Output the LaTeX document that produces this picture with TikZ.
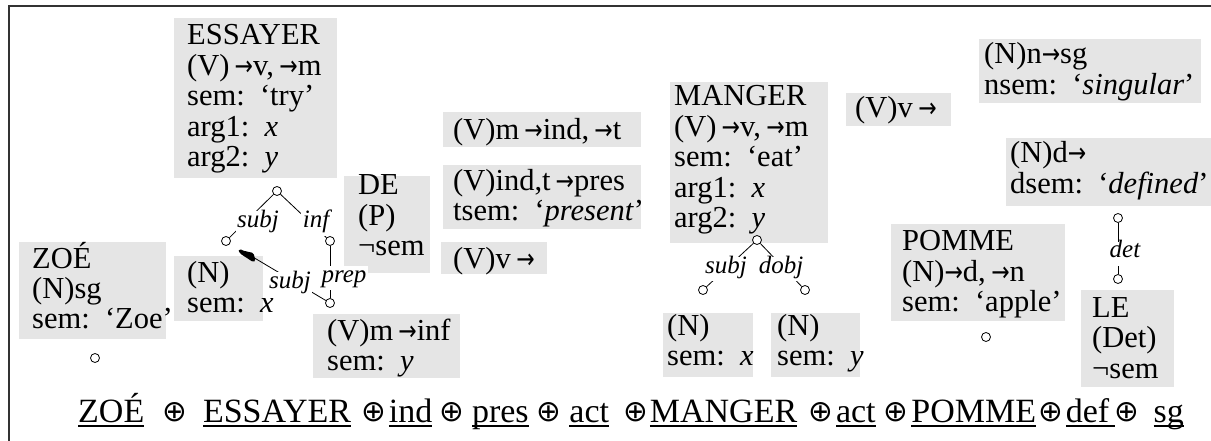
\documentclass[tikz,border=0pt]{standalone}
\usepackage{fontspec}
\setmainfont{Liberation Serif}
\newfontfamily\dvsans{DejaVu Sans}
\usepackage{graphicx}
\definecolor{boxgray}{RGB}{229,229,229}
\newcommand\ra{{\dvsans\scalebox{0.72}[0.9]{→}}}
\newcommand\ul[1]{{\setbox0=\hbox{#1}\rlap{\rule[-4.5pt]{\wd0}{1.3pt}}\box0}}
\newcommand\op{\raisebox{1pt}{\resizebox{!}{19pt}{\dvsans ⊕}}}
\newcommand\tightsp{\spaceskip=5.5pt plus 1pt minus 1pt\relax}
\begin{document}
\begin{tikzpicture}[x=1pt,y=-1pt,
  box/.style={fill=boxgray, inner sep=0pt, anchor=north west},
  txt/.style={anchor=base west, inner sep=0pt, align=left, text width=240pt, font=\fontsize{30.5}{30.5}\selectfont, execute at begin node=\tightsp},
  dot/.style={circle, draw, fill=white, inner sep=0pt, minimum size=9pt, line width=0.8pt},
  lab/.style={anchor=base, fill=white, inner sep=1.5pt, font=\fontsize{25}{25}\selectfont\itshape, text height=15pt, text depth=6pt},
  conn/.style={line width=0.8pt},
  frame/.style={line width=1.6pt, draw=black!80}]
\useasboundingbox (0,0) rectangle (1211,441);
% frame
\coordinate (fBL) at (9,441);
\coordinate (fTL) at (9,6);
\coordinate (fTR) at (1211,6);
\draw[frame] (fBL) -- (fTL) -- (fTR);
% boxes
\node[box, minimum width=163pt, minimum height=160pt] (essB) at (174,18) {};
\node[box, minimum width=86pt, minimum height=97pt] (deB) at (344,176) {};
\node[box, minimum width=89pt, minimum height=65pt] (n1B) at (174,256) {};
\node[box, minimum width=147pt, minimum height=64pt] (vinfB) at (313,314) {};
\node[box, minimum width=147pt, minimum height=97pt] (zoeB) at (19,242) {};
\node[box, minimum width=198pt, minimum height=35pt] (mindB) at (443,112) {};
\node[box, minimum width=198pt, minimum height=64pt] (presB) at (443,165) {};
\node[box, minimum width=106pt, minimum height=32pt] (vvaB) at (441,242) {};
\node[box, minimum width=158pt, minimum height=161pt] (mangB) at (670,82) {};
\node[box, minimum width=90pt, minimum height=64pt] (nxB) at (663,313) {};
\node[box, minimum width=89pt, minimum height=64pt] (nyB) at (771,313) {};
\node[box, minimum width=105pt, minimum height=33pt] (vvbB) at (846,93) {};
\node[box, minimum width=222pt, minimum height=64pt] (sgB) at (979,39) {};
\node[box, minimum width=205pt, minimum height=68pt] (defB) at (1006,138) {};
\node[box, minimum width=174pt, minimum height=97pt] (pomB) at (891,224) {};
\node[box, minimum width=93pt, minimum height=97pt] (leB) at (1081,290) {};
% texts
\node[txt] (ess) at (187,45) {ESSAYER\\(V)\,\ra v, \ra m\\sem: ‘try’\\arg1: \textit{x}\\arg2: \textit{y}};
\node[txt] (de) at (358,195) {DE\\(P)\\¬sem};
\node[txt] (na) at (187,282) {(N)\\sem: \textit{x}};
\node[txt] (vinf) at (327,340) {(V)m\,\ra inf\\sem: \textit{y}};
\node[txt] (zoe) at (32,268) {ZOÉ\\(N)sg\\sem: ‘Zoe’};
\node[txt] (mind) at (453,140) {(V)m\,\ra ind,\,\ra t};
\node[txt] (pres) at (453,190) {(V)ind,t\,\ra pres\\tsem: ‘\textit{present}’};
\node[txt] (vva) at (453,268) {(V)v \ra};
\node[txt] (mang) at (674,106) {MANGER\\(V)\,\ra v, \ra m\\sem: ‘eat’\\arg1: \textit{x}\\arg2: \textit{y}};
\node[txt] (nx) at (667,335) {(N)\\sem: \textit{x}};
\node[txt] (ny) at (777,335) {(N)\\sem: \textit{y}};
\node[txt] (vvb) at (855,118) {(V)v \ra};
\node[txt] (sg) at (984,64) {(N)n\ra sg\\nsem: ‘\textit{singular}’};
\node[txt] (def) at (1010,163) {(N)d\ra\\dsem: ‘\textit{defined}’};
\node[txt] (pom) at (902,251) {POMME\\(N)\ra d, \ra n\\sem: ‘apple’};
\node[txt] (le) at (1092,317) {LE\\(Det)\\¬sem};
% circles
\node[dot] (cEss) at (277,191) {};
\node[dot] (cSa) at (226,241) {};
\node[dot] (cInf) at (330,241) {};
\node[dot] (cPrep) at (330,303) {};
\node[dot] (cZoe) at (95,358) {};
\node[dot] (cMang) at (757,240) {};
\node[dot] (cMs) at (703,290) {};
\node[dot] (cMd) at (805,290) {};
\node[dot] (cPom) at (986,337) {};
\node[dot] (cDef) at (1118,218) {};
\node[dot] (cLe) at (1118,279) {};
% connectors
\draw[conn] (cEss) -- (cSa);
\draw[conn] (cEss) -- (cInf);
\draw[conn] (cInf) -- (cPrep);
\draw[conn, shorten >=12pt] (cPrep) -- (cSa);
\fill[rounded corners=1.5pt] (238,249.5) -- (253.5,253) -- (255.5,261) -- (253,262) -- (240,253.5) -- cycle;
\draw[conn] (cMang) -- (cMs);
\draw[conn] (cMang) -- (cMd);
\draw[conn] (cDef) -- (cLe);
% labels
\node[lab] (lSa) at (258,228) {subj};
\node[lab] (lInf) at (316,228) {inf};
\node[lab] (lSb) at (290,288) {subj};
\node[lab] (lPrep) at (344,282) {prep};
\node[lab] (lMs) at (726,273) {subj};
\node[lab] (lMd) at (781,273) {dobj};
\node[lab] (lDet) at (1125,258) {det};
% formula
\node[anchor=base west, inner sep=0pt, font=\fontsize{34}{34}\selectfont] (formula) at (78,422)
 {\ul{ZOÉ}\hspace{18pt}\op\hspace{16pt}\ul{ESSAYER}\hspace{10pt}\op\hspace{3pt}\ul{ind}\hspace{7pt}\op\hspace{8pt}\ul{pres}\hspace{8pt}\op\hspace{8pt}\ul{act}\hspace{14pt}\op\hspace{2pt}\ul{MANGER}\hspace{11pt}\op\hspace{3pt}\ul{act}\hspace{8pt}\op\hspace{3pt}\ul{POMME}\hspace{2pt}\op\hspace{3pt}\ul{def\,}\op\hspace{14pt}\ul{sg}};
\end{tikzpicture}
\end{document}
